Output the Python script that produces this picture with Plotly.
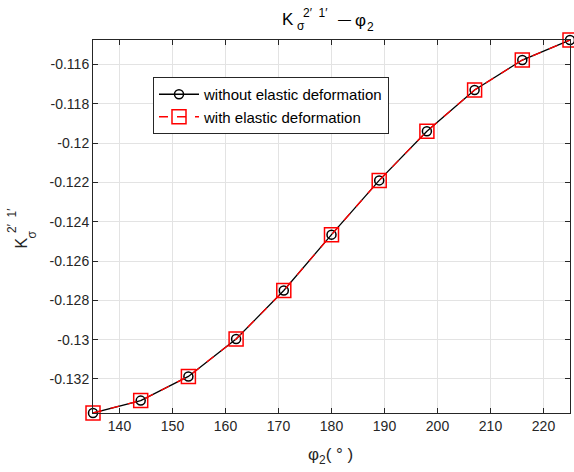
import plotly.graph_objects as go

phi2 = [135, 144, 153, 162, 171, 180, 189, 198, 207, 216, 225]
k_without = [-0.13373, -0.13310, -0.13187, -0.12997, -0.12750, -0.12466,
             -0.12190, -0.11940, -0.11730, -0.11578, -0.11476]
k_with = [-0.13373, -0.13310, -0.13187, -0.12997, -0.12750, -0.12466,
          -0.12190, -0.11940, -0.11730, -0.11578, -0.11476]

x_ticks = [140, 150, 160, 170, 180, 190, 200, 210, 220]
y_ticks = [-0.132, -0.130, -0.128, -0.126, -0.124, -0.122, -0.120, -0.118, -0.116]
y_ticklabels = ["-0.132", "-0.13", "-0.128", "-0.126", "-0.124", "-0.122", "-0.12", "-0.118", "-0.116"]

font = "Liberation Sans, Arial, sans-serif"
W, H = 574, 472
ML, MR, MT, MB = 93, 4, 40, 59
PW, PH = W - ML - MR, H - MT - MB


def px(x):
    return (x - ML) / PW


def py(y):
    return (H - MB - y) / PH


fig = go.Figure()
fig.add_trace(go.Scatter(
    x=phi2, y=k_without, mode="lines+markers", name="without elastic deformation",
    line=dict(color="black", width=1.3),
    marker=dict(symbol="circle-open", size=9, color="black", line=dict(width=1.5)),
    cliponaxis=False,
))
fig.add_trace(go.Scatter(
    x=phi2, y=k_with, mode="lines+markers", name="with elastic deformation",
    line=dict(color="#ff0000", width=1.3, dash="dash"),
    marker=dict(symbol="square-open", size=14, color="#ff0000", line=dict(width=1.5)),
    cliponaxis=False,
))

axis_common = dict(
    showline=True, linecolor="#262626", linewidth=1, mirror="ticks",
    ticks="inside", ticklen=5, tickcolor="#262626",
    showgrid=True, gridcolor="#e3e3e3", gridwidth=1,
    zeroline=False, automargin=False,
    tickfont=dict(family=font, size=14, color="#262626"),
)

ann = []


def add_text(text, x, y, size, color="#262626", angle=0):
    ann.append(dict(text=text, x=px(x), y=py(y), xref="paper", yref="paper",
                    xanchor="center", yanchor="middle", showarrow=False,
                    textangle=angle, font=dict(family=font, size=size, color=color)))


# title: K with stacked sigma (sub) and 2' 1' (sup), then — φ2
add_text("K", 288, 20, 17, "black")
add_text("2′  1′", 315, 13, 12, "black")
add_text("σ", 300.5, 26, 12, "black")
add_text("—", 344, 20, 13, "black")
add_text("φ", 360, 21, 17, "black")
add_text("2", 370, 27, 12, "black")

# y-axis title (rotated)
add_text("K", 21.5, 243, 16, "#262626", -90)
add_text("σ", 31.5, 235, 12, "#262626", -90)
add_text("2′  1′", 12, 221, 12, "#262626", -90)

# x-axis title
add_text("φ<sub>2</sub>( ° )", 330, 456, 17, "#262626")

fig.update_layout(
    width=W, height=H,
    margin=dict(l=ML, r=MR, t=MT, b=MB, autoexpand=False),
    paper_bgcolor="white", plot_bgcolor="white",
    font=dict(family=font, color="#262626"),
    xaxis=dict(range=[135, 225], tickvals=x_ticks, **axis_common),
    yaxis=dict(range=[-0.13373, -0.11476], tickvals=y_ticks, ticktext=y_ticklabels,
               **axis_common),
    legend=dict(x=px(153), y=py(77), xanchor="left", yanchor="top",
                bgcolor="white", bordercolor="#262626", borderwidth=1,
                font=dict(family=font, size=15, color="black"),
                tracegroupgap=0, itemwidth=40),
    showlegend=True,
    annotations=ann,
)

fig.write_html("out.html", config={"displayModeBar": False},
               post_script="document.body.style.margin='0';document.body.style.overflow='hidden';")
